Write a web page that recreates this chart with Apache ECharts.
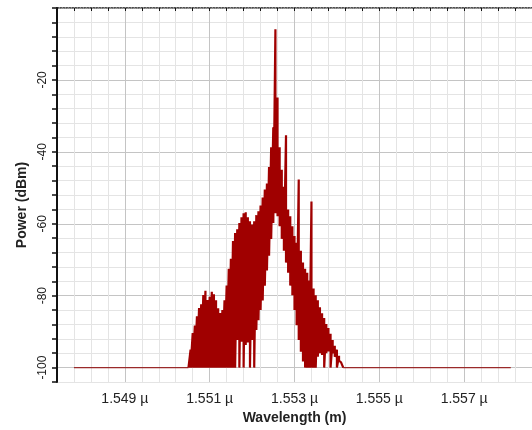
<!DOCTYPE html>
<html>
<head>
<meta charset="utf-8">
<script src="https://cdn.jsdelivr.net/npm/echarts@6/dist/echarts.min.js"></script>
<style>
html, body { margin: 0; padding: 0; background: #fff; }
#main { width: 532px; height: 430px; }
</style>
</head>
<body>
<div id="main"></div>
<script>
// wavelength samples across the signal band (µm)
var wavelength = [
  1.55050, 1.55055, 1.55060, 1.55065, 1.55070, 1.55075, 1.55080, 1.55085, 1.55090, 1.55095,
  1.55100, 1.55105, 1.55110, 1.55115, 1.55120, 1.55125, 1.55130, 1.55135, 1.55140, 1.55145,
  1.55150, 1.55155, 1.55160, 1.55165, 1.55170, 1.55175, 1.55180, 1.55185, 1.55190, 1.55195,
  1.55200, 1.55205, 1.55210, 1.55215, 1.55220, 1.55225, 1.55230, 1.55235, 1.55240, 1.55245,
  1.55250, 1.55255, 1.55260, 1.55265, 1.55270, 1.55275, 1.55280, 1.55285, 1.55290, 1.55295,
  1.55300, 1.55305, 1.55310, 1.55315, 1.55320, 1.55325, 1.55330, 1.55335, 1.55340, 1.55345,
  1.55350, 1.55355, 1.55360, 1.55365, 1.55370, 1.55375, 1.55380, 1.55385, 1.55390, 1.55395,
  1.55400, 1.55405, 1.55410, 1.55415
];
// top of the noisy trace at each sample (dBm)
var upper = [
  -100, -95.0, -90.4, -88.3, -85.7, -83.4, -82.4, -79.8, -78.6, -81.2,
  -80.3, -78.9, -79.6, -81.3, -83.5, -84.8, -84.0, -81.3, -77.2, -72.5,
  -69.7, -64.8, -62.6, -61.5, -59.8, -58.2, -57.1, -56.8, -58.2, -59.3,
  -60.2, -59.3, -57.6, -56.5, -54.9, -52.7, -50.5, -48.8, -44.2, -38.7,
  -33.2, -5.9, -24.9, -38.7, -45.0, -49.7, -35.4, -56.0, -57.9, -60.7,
  -63.4, -65.3, -47.7, -67.5, -70.8, -72.5, -73.6, -75.8, -53.8, -78.0,
  -79.9, -81.3, -83.2, -84.9, -86.2, -87.9, -89.0, -90.6, -92.3, -93.9,
  -95.0, -96.7, -98.6, -100
];
// bottom of the noisy trace at each sample (dBm)
var lower = [
  -100, -100, -100, -100, -100, -100, -100, -100, -100, -100,
  -100, -100, -100, -100, -100, -100, -100, -100, -100, -100,
  -100, -100, -100, -92.3, -100, -92.8, -100, -93.7, -93.0, -100,
  -92.3, -100, -89.5, -86.8, -84.0, -81.3, -77.2, -73.0, -68.9, -64.2,
  -59.8, -57.1, -57.9, -60.7, -64.2, -67.5, -70.8, -73.6, -77.2, -79.9,
  -84.0, -88.2, -92.3, -95.6, -98.3, -100, -100, -100, -100, -100,
  -100, -97.0, -96.0, -96.5, -100, -96.0, -95.5, -100, -96.0, -97.0,
  -100, -98.0, -99.0, -100
];
// noise floor outside the band
var floorLevel = -100;
var traceStart = 1.5478;
var traceEnd = 1.5581;

var xTicks = [
  1.5474, 1.5478, 1.5482, 1.5486, 1.549, 1.5494, 1.5498, 1.5502, 1.5506, 1.551,
  1.5514, 1.5518, 1.5522, 1.5526, 1.553, 1.5534, 1.5538, 1.5542, 1.5546, 1.555,
  1.5554, 1.5558, 1.5562, 1.5566, 1.557, 1.5574, 1.5578, 1.5582, 1.5586
];
var xLabels = [1.549, 1.551, 1.553, 1.555, 1.557];
var yLabels = [-100, -80, -60, -40, -20];

var xMin = 1.5474, xMax = 1.5586;
var yMin = -104, yMax = 0;

// trace goes up and down at each sample, like the analyser output
var trace = [];
for (var i = 0; i < wavelength.length; i++) {
  trace.push([wavelength[i], upper[i]]);
  trace.push([wavelength[i], lower[i]]);
}
var floorLeft = [[traceStart, floorLevel], [wavelength[0], floorLevel]];
var floorRight = [[wavelength[wavelength.length - 1], floorLevel], [traceEnd, floorLevel]];

var myChart = echarts.init(document.getElementById('main'));
var txtColor = '#222';
var font = 'Liberation Sans, Arial, sans-serif';
var floorStyle = { color: '#9a2a2a', width: 1.3 };

var option = {
  animation: false,
  grid: {
    left: 57,
    right: 0,
    top: 8,
    bottom: 48
  },
  xAxis: [
    {
      type: 'value',
      min: xMin,
      max: xMax,
      position: 'bottom',
      name: 'Wavelength (m)',
      nameLocation: 'middle',
      nameGap: 24,
      nameTextStyle: { fontWeight: 'bold', fontSize: 14, color: txtColor, fontFamily: font },
      axisLine: { lineStyle: { color: '#111', width: 1.5, type: 'dotted' } },
      axisTick: { show: true, length: 3, customValues: xTicks, lineStyle: { color: '#111' } },
      axisLabel: {
        customValues: xLabels,
        margin: 10,
        fontSize: 14,
        color: txtColor,
        fontFamily: font,
        formatter: function (v) { return v.toFixed(3) + ' \u00b5'; }
      },
      splitLine: { show: true, lineStyle: { color: '#e4e4e4', width: 1 } }
    },
    {
      // top border + darker major vertical grid
      type: 'value',
      min: xMin,
      max: xMax,
      position: 'top',
      axisLine: { show: true, lineStyle: { color: '#999', width: 1, type: 'dotted' } },
      axisTick: { show: false, customValues: xLabels },
      axisLabel: { show: false, customValues: xLabels },
      splitLine: { show: true, lineStyle: { color: '#c4c4c4', width: 1 } }
    }
  ],
  yAxis: [
    {
      type: 'value',
      min: yMin,
      max: yMax,
      interval: 4,
      position: 'left',
      name: 'Power (dBm)',
      nameLocation: 'middle',
      nameGap: 28,
      nameTextStyle: { fontWeight: 'bold', fontSize: 14, color: txtColor, fontFamily: font, padding: [0, 20, 0, 0] },
      axisLine: { lineStyle: { color: '#111', width: 2 } },
      axisTick: { show: true, length: 5, lineStyle: { color: '#111', width: 1.5 } },
      axisLabel: {
        customValues: yLabels,
        rotate: 90,
        margin: 8,
        fontSize: 12,
        color: txtColor,
        fontFamily: font
      },
      splitLine: { show: true, lineStyle: { color: '#e4e4e4', width: 1 } }
    },
    {
      // darker major horizontal grid
      type: 'value',
      min: yMin,
      max: yMax,
      position: 'right',
      axisLine: { show: false },
      axisTick: { show: false, customValues: yLabels },
      axisLabel: { show: false, customValues: yLabels },
      splitLine: { show: true, lineStyle: { color: '#c4c4c4', width: 1 } }
    }
  ],
  series: [
    {
      type: 'line',
      data: floorLeft,
      showSymbol: false,
      symbol: 'none',
      lineStyle: floorStyle,
      z: 4
    },
    {
      type: 'line',
      data: floorRight,
      showSymbol: false,
      symbol: 'none',
      lineStyle: floorStyle,
      z: 4
    },
    {
      type: 'line',
      data: trace,
      showSymbol: false,
      symbol: 'none',
      lineStyle: { color: '#a00000', width: 2.2 },
      z: 5
    }
  ]
};

myChart.setOption(option);
</script>
</body>
</html>
